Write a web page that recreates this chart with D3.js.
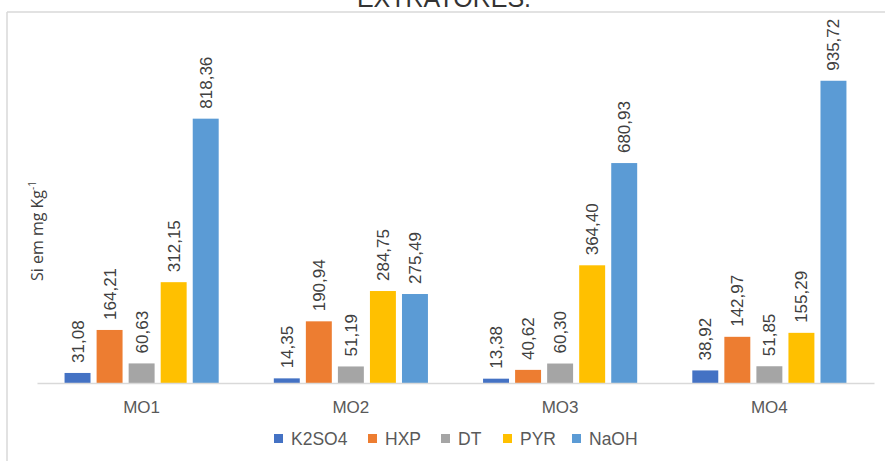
<!DOCTYPE html>
<html>
<head>
<meta charset="UTF-8" />
<title>extratores</title>
<script src="https://d3js.org/d3.v7.min.js"></script>
<style>
  body { margin: 0; background: #fff; }
  text { font-family: "Liberation Sans", Arial, sans-serif; }
</style>
</head>
<body>
<svg id="chart" width="885" height="461"></svg>
<script>
// data
const groups = ["MO1", "MO2", "MO3", "MO4"]
const series = ["K2SO4", "HXP", "DT", "PYR", "NaOH"]
const K2SO4 = [31.08, 14.35, 13.38, 38.92]
const HXP = [164.21, 190.94, 40.62, 142.97]
const DT = [60.63, 51.19, 60.30, 51.85]
const PYR = [312.15, 284.75, 364.40, 155.29]
const NaOH = [818.36, 275.49, 680.93, 935.72]
const values = { K2SO4, HXP, DT, PYR, NaOH }
const colors = ["#4472C4", "#ED7D31", "#A5A5A5", "#FFC000", "#5B9BD5"]

const svg = d3.select("#chart")

// frame
svg.append("line").attr("x1", 7).attr("x2", 885).attr("y1", 12).attr("y2", 12)
  .attr("stroke", "#d9d9d9").attr("stroke-width", 1.5)
svg.append("line").attr("x1", 7).attr("x2", 7).attr("y1", 12).attr("y2", 461)
  .attr("stroke", "#d9d9d9").attr("stroke-width", 1.5)

// title (cut at top, as in the source)
svg.append("text").attr("x", 444).attr("y", 7).attr("text-anchor", "middle")
  .style("font-size", "25px").attr("fill", "#333").text("EXTRATORES.")

// scales
const x0 = d3.scaleBand().domain(groups).range([37, 874])
const x1 = d3.scaleBand().domain(series).range([0, x0.bandwidth()]).paddingInner(0.19).paddingOuter(0.86)
const y = d3.scaleLinear().domain([0, 1000]).range([383, 60])
const color = d3.scaleOrdinal().domain(series).range(colors)

const rows = groups.map((g, i) => ({ g, vals: series.map(s => ({ s, v: values[s][i] })) }))

const gg = svg.selectAll(".grp").data(rows).join("g")
  .attr("transform", d => `translate(${x0(d.g)},0)`)

gg.selectAll("rect").data(d => d.vals).join("rect")
  .attr("x", d => x1(d.s)).attr("width", x1.bandwidth())
  .attr("y", d => y(d.v)).attr("height", d => y(0) - y(d.v))
  .attr("fill", d => color(d.s))

gg.selectAll(".lbl").data(d => d.vals).join("text")
  .attr("transform", d => `translate(${x1(d.s) + x1.bandwidth() / 2 + 6},${y(d.v) - 10}) rotate(-90)`)
  .style("font-size", "17px").attr("fill", "#404040")
  .text(d => d3.format(".2f")(d.v).replace(".", ","))

// x axis
const xAxis = d3.axisBottom(x0).tickSize(0).tickPadding(18)
const xg = svg.append("g").attr("transform", "translate(0,383)").call(xAxis)
xg.select(".domain").attr("stroke", "#d9d9d9").attr("stroke-width", 1.5)
xg.selectAll("text").style("font-size", "17px").attr("fill", "#595959")
  .style("font-family", "'Liberation Sans', Arial, sans-serif")

// y label
const yl = svg.append("text").attr("transform", "translate(43,231) rotate(-90)")
  .attr("text-anchor", "middle").style("font-size", "16px").attr("fill", "#404040")
  .style("font-family", "'Open Sans', 'DejaVu Sans', sans-serif")
yl.append("tspan").text("Si em mg Kg")
yl.append("tspan").attr("dy", -7).style("font-size", "10px").text("-1")

// legend
const legX = [274, 368, 441, 503, 572]
const leg = svg.selectAll(".leg").data(series).join("g")
  .attr("transform", (d, i) => `translate(${legX[i]},438)`)
leg.append("rect").attr("x", 0).attr("y", -4).attr("width", 9).attr("height", 9).attr("fill", d => color(d))
leg.append("text").attr("x", 17).attr("y", 6.5).style("font-size", "17.5px").attr("fill", "#595959").text(d => d)
</script>
</body>
</html>
